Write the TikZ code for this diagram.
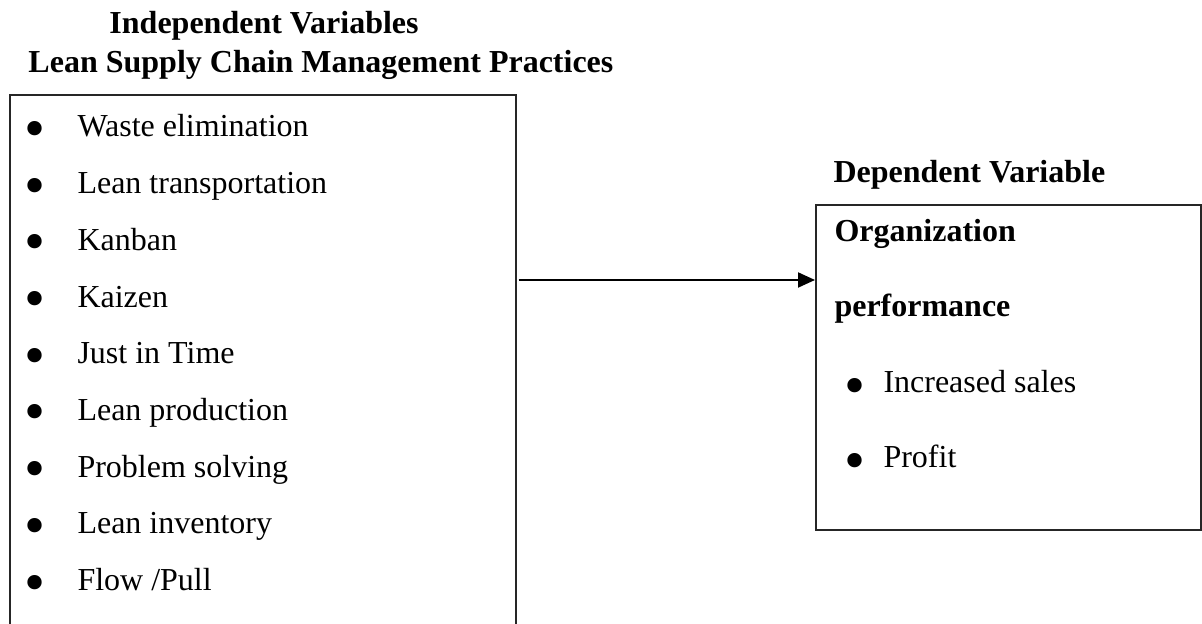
\documentclass[tikz,border=0pt]{standalone}
\usepackage{fontspec}
\setmainfont{Liberation Serif}
\usetikzlibrary{arrows.meta}
\begin{document}
\begin{tikzpicture}[x=0.4pt,y=-0.4pt,
  txt/.style={anchor=base west, inner sep=0pt, font=\fontsize{12.8}{15}\selectfont},
  head/.style={anchor=base west, inner sep=0pt, font=\fontsize{12.8}{15}\selectfont\bfseries},
  bul/.style={anchor=center, inner sep=0pt, font=\fontsize{24}{24}\selectfont},
  frame/.style={draw=black!85, line width=0.65pt, anchor=north west, inner sep=0pt, rectangle},
  arr/.style={line width=0.8pt, -{Triangle[length=6.8pt,width=6pt]}}]
\useasboundingbox (0,0) rectangle (1202,624);
\clip (0,0) rectangle (1202,624);
% headings
\node[head] (h1) at (109,34) {Independent Variables};
\node[head] (h2) at (28,73) {Lean Supply Chain Management Practices};
\node[head] (h3) at (833,183) {Dependent Variable};
% boxes
\node[frame, minimum width=202.4pt, minimum height=224pt] (lbox) at (9,94) {};
\node[frame, minimum width=154pt, minimum height=130pt] (rbox) at (815,204) {};
% left list
\foreach \t [count=\i from 0] in {Waste elimination, Lean transportation, Kanban, Kaizen, Just in Time, Lean production, Problem solving, Lean inventory, Flow /Pull}{
  \node[bul] (b\i) at (35,135+56.7*\i) {\textbullet};
  \node[txt] (l\i) at (77,137+56.7*\i) {\t};
}
% right box contents
\node[head] (o1) at (834,242) {Organization};
\node[head] (o2) at (834,317) {performance};
\node[bul] (rb1) at (855,392) {\textbullet};
\node[txt] (r1) at (883,393) {Increased sales};
\node[bul] (rb2) at (855,467) {\textbullet};
\node[txt] (r2) at (883,468) {Profit};
% arrow
\coordinate (ay) at (0,280);
\draw[arr] ([xshift=0.8pt]lbox.east |- ay) -- (rbox.west |- ay);
\end{tikzpicture}
\end{document}
